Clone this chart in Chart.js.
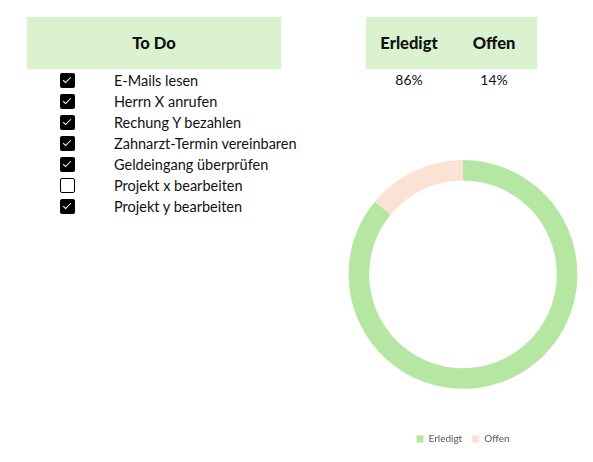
<!DOCTYPE html>
<html>
<head>
<meta charset="utf-8">
<script src="https://cdn.jsdelivr.net/npm/chart.js@4"></script>
<style>
  body { margin: 0; width: 593px; height: 462px; background: #fff; position: relative; overflow: hidden;
         font-family: "Lato", "Noto Sans", sans-serif; color: #111; }
  .kopf { position: absolute; top: 17px; height: 52px; background: #daf2d0; box-shadow: 0 0 2px rgba(0,0,0,.08); }
  .kopf span { position: absolute; top: 0; line-height: 53px; font-weight: 900; font-size: 16.5px; transform: translateX(-50%); white-space: nowrap; }
  .wert { position: absolute; top: 71px; font-size: 14px; transform: translateX(-50%); }
  .zeile { position: absolute; left: 0; height: 21px; }
  .box { position: absolute; left: 60px; top: 3px; width: 15px; height: 15px; box-sizing: border-box; border-radius: 2px; }
  .box.an { background: #000; }
  .box.an::after { content: ""; position: absolute; left: 5px; top: 2px; width: 3px; height: 7px;
                   border: solid #fff; border-width: 0 1.6px 1.6px 0; transform: rotate(45deg); }
  .box.aus { border: 1.6px solid #000; background: #fff; }
  .txt { position: absolute; left: 114px; top: 0; line-height: 21px; font-size: 14.5px; white-space: nowrap; }
  #wrap { position: absolute; left: 348px; top: 160px; width: 230px; height: 294px; }
</style>
</head>
<body>
<div class="kopf" style="left:27px;width:254px"><span style="left:127px">To Do</span></div>
<div class="kopf" style="left:366px;width:171px"><span style="left:43px">Erledigt</span><span style="left:128px">Offen</span></div>
<div id="liste"></div>
<div id="werte"></div>
<div id="wrap"><canvas id="ring"></canvas></div>
<script>
  // Aufgaben und Status (true = erledigt)
  var aufgaben = ["E-Mails lesen", "Herrn X anrufen", "Rechung Y bezahlen", "Zahnarzt-Termin vereinbaren",
                  "Geldeingang überprüfen", "Projekt x bearbeiten", "Projekt y bearbeiten"];
  var erledigt = [true, true, true, true, true, false, true];

  var kategorien = ["Erledigt", "Offen"];
  var anteile = [86, 14];
  var farben = ["#b5e6a2", "#fbe2d5"];

  var liste = document.getElementById("liste");
  aufgaben.forEach(function (a, i) {
    var z = document.createElement("div");
    z.className = "zeile";
    z.style.top = (70 + i * 21) + "px";
    z.innerHTML = '<div class="box ' + (erledigt[i] ? "an" : "aus") + '"></div><div class="txt"></div>';
    z.querySelector(".txt").textContent = a;
    liste.appendChild(z);
  });

  var werte = document.getElementById("werte");
  [409, 494].forEach(function (x, i) {
    var d = document.createElement("div");
    d.className = "wert";
    d.style.left = x + "px";
    d.textContent = anteile[i] + "%";
    werte.appendChild(d);
  });

  new Chart(document.getElementById("ring").getContext("2d"), {
    type: "doughnut",
    data: {
      labels: kategorien,
      datasets: [{ data: anteile, backgroundColor: farben, borderWidth: 0 }]
    },
    options: {
      responsive: true,
      maintainAspectRatio: false,
      animation: false,
      cutout: "82%",
      plugins: {
        tooltip: { enabled: false },
        legend: {
          position: "bottom",
          // leerer Titel schiebt die Legende nach unten
          title: { display: true, text: "", font: { size: 1 }, padding: { top: 0, bottom: 34 } },
          labels: { color: "#595959", boxWidth: 7, boxHeight: 7, padding: 10,
                    font: { size: 10, family: "Lato, 'Noto Sans', sans-serif" } }
        }
      }
    }
  });
</script>
</body>
</html>
